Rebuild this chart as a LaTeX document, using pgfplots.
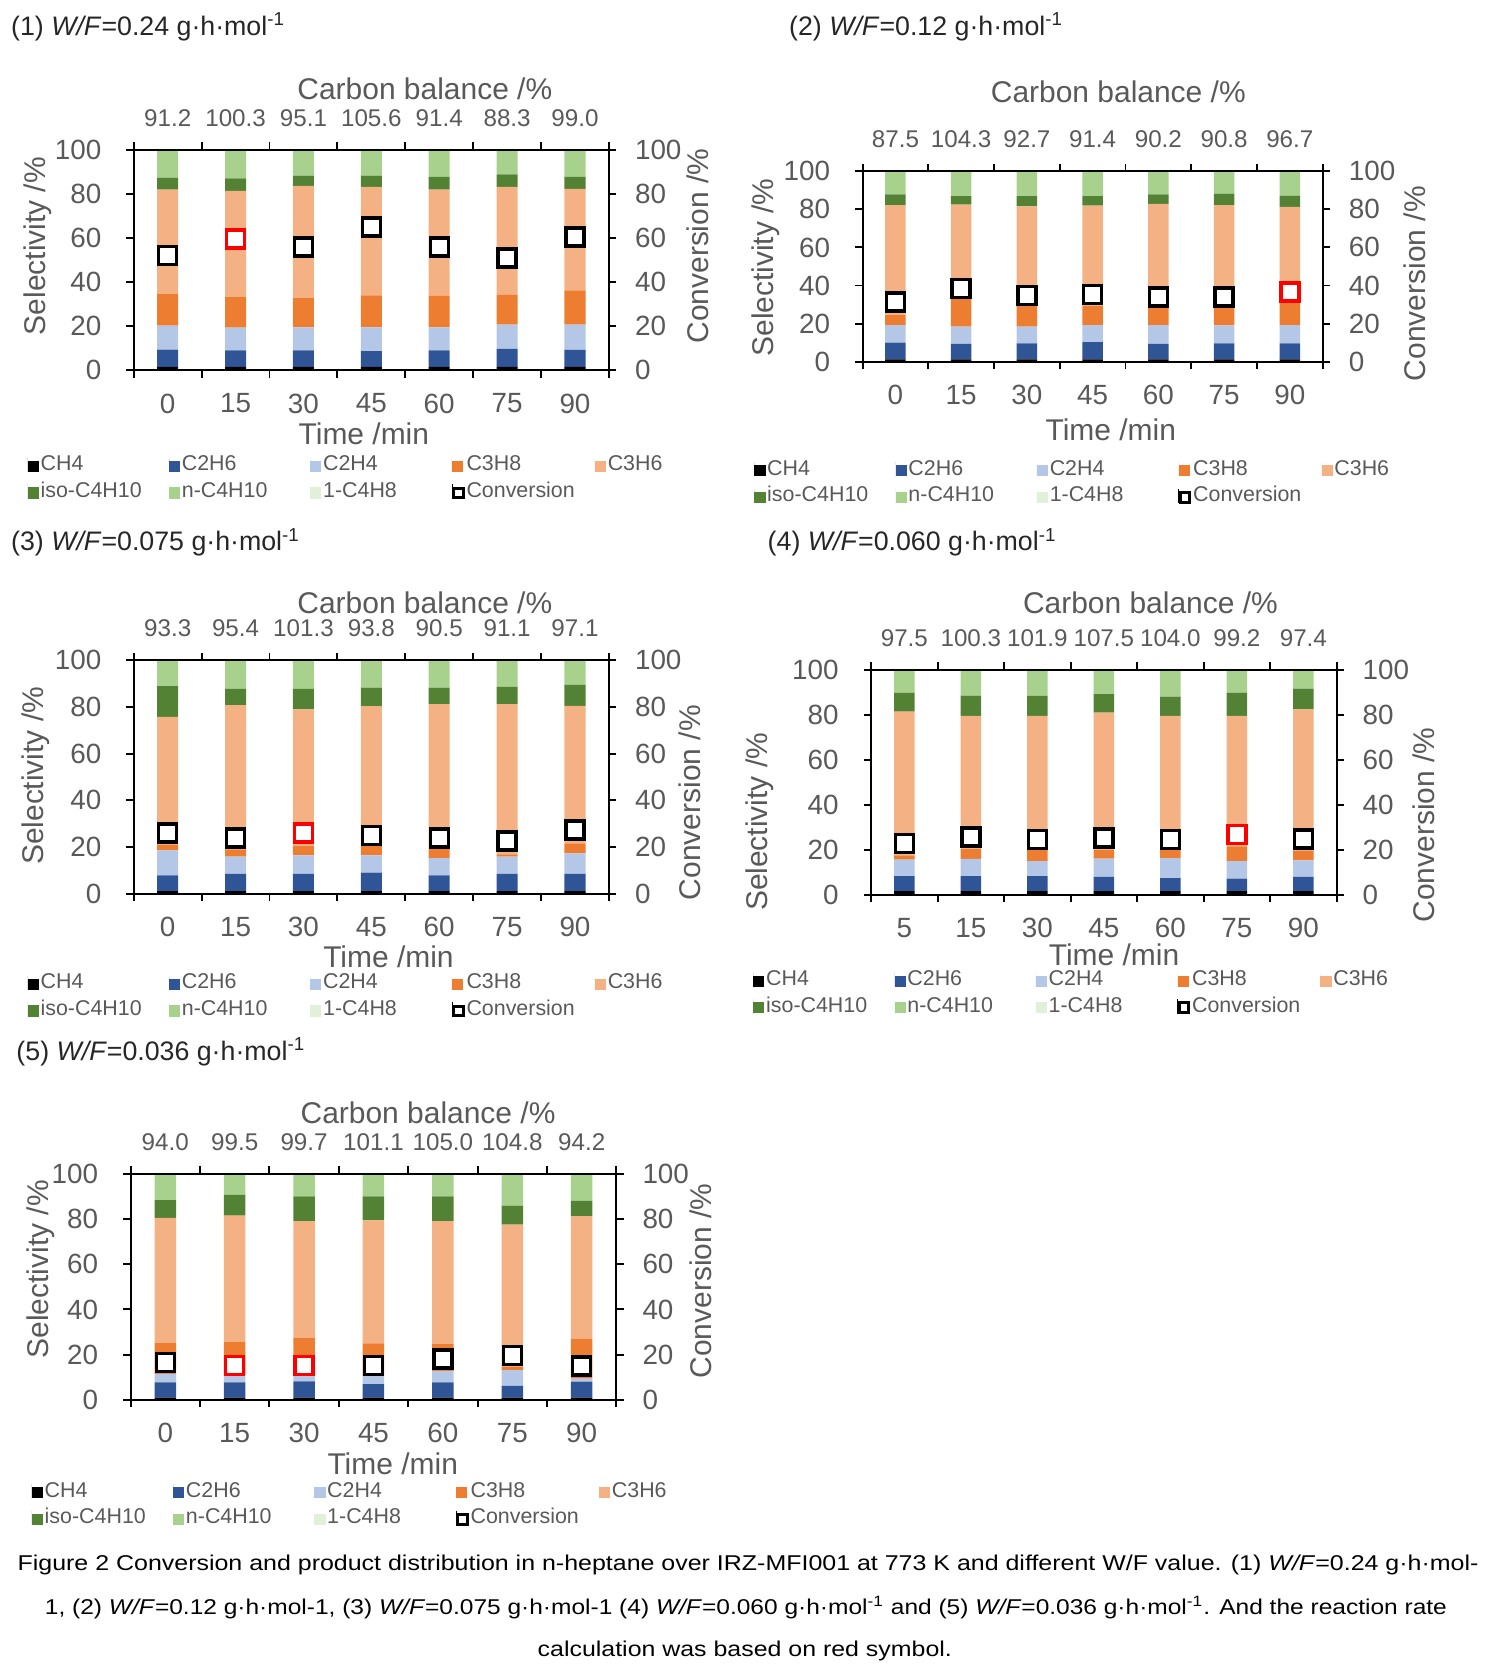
\documentclass[border=0pt]{standalone}
\usepackage{pgfplots}
\pgfplotsset{compat=1.18}
\usepackage{pgfplotstable}
\usepackage{graphicx}
\usepackage{fontspec}
\setmainfont{Liberation Sans}

\definecolor{cCH4}{HTML}{000000}
\definecolor{cC2H6}{HTML}{2F5597}
\definecolor{cC2H4}{HTML}{B4C7E7}
\definecolor{cC3H8}{HTML}{ED7D31}
\definecolor{cC3H6}{HTML}{F4B183}
\definecolor{ciso}{HTML}{548235}
\definecolor{cn}{HTML}{A9D18E}
\definecolor{cbut}{HTML}{E2F0D9}
\definecolor{txt}{HTML}{595959}
\definecolor{ttl}{HTML}{262626}

\pgfplotstableread{
x CH4 C2H6 C2H4 C3H8 C3H6 iso n but conv convr
0 1.5 7.9 10.8 14.6 47.2 5.4 12.6 0 52.0 nan
1 1.5 7.5 10.3 14.1 48.0 5.7 12.9 0 nan 59.5
2 1.5 7.5 10.5 13.5 50.7 4.6 11.7 0 56.0 nan
3 1.5 7.2 10.8 14.5 49.2 5.1 11.7 0 65.0 nan
4 1.5 7.5 10.5 14.2 48.3 5.7 12.3 0 56.0 nan
5 1.5 8.2 11.0 13.5 49.0 5.7 11.1 0 51.0 nan
6 1.5 7.8 11.4 15.6 46.0 5.4 12.3 0 60.5 nan
}\tA
\pgfplotstableread{
x CH4 C2H6 C2H4 C3H8 C3H6 iso n but conv convr
0 1.2 8.8 9.2 5.3 57.7 5.6 12.2 0 31.3 nan
1 1.2 8.2 9.0 14.6 49.5 4.4 13.1 0 38.3 nan
2 1.2 8.4 8.8 10.8 52.4 5.3 13.1 0 34.8 nan
3 1.2 9.1 8.9 10.3 52.5 4.9 13.1 0 35.3 nan
4 1.2 8.2 9.8 9.6 54.1 4.9 12.2 0 33.9 nan
5 1.2 8.4 9.5 9.7 53.4 6.1 11.7 0 33.9 nan
6 1.2 8.4 9.6 11.7 50.4 5.9 12.8 0 nan 36.7
}\tB
\pgfplotstableread{
x CH4 C2H6 C2H4 C3H8 C3H6 iso n but conv convr
0 1.1 6.7 10.7 2.4 54.9 13.1 11.1 0 26.0 nan
1 1.1 7.3 7.4 3.1 61.9 7.0 12.2 0 23.9 nan
2 1.1 7.3 8.0 4.2 58.4 8.8 12.2 0 nan 26.0
3 1.1 7.9 7.4 3.9 60.1 7.9 11.7 0 24.9 nan
4 1.1 6.7 7.4 4.0 62.0 7.1 11.7 0 23.9 nan
5 1.1 7.3 7.4 1.0 64.4 7.4 11.4 0 22.5 nan
6 1.1 7.3 8.8 4.3 59.0 9.1 10.4 0 27.2 nan
}\tC
\pgfplotstableread{
x CH4 C2H6 C2H4 C3H8 C3H6 iso n but conv convr
0 1.6 6.6 7.4 1.9 63.9 8.5 10.1 0 22.7 nan
1 1.6 6.6 7.7 4.6 59.1 9.0 11.4 0 25.7 nan
2 1.6 6.6 6.7 4.9 59.8 8.8 11.6 0 24.5 nan
3 1.6 6.3 8.1 3.8 61.2 8.2 10.8 0 25.3 nan
4 1.6 5.8 8.9 3.5 59.8 8.5 11.9 0 24.5 nan
5 1.6 5.5 7.8 6.6 58.1 10.3 10.1 0 nan 26.7
6 1.6 6.3 7.4 4.2 63.0 9.2 8.3 0 24.8 nan
}\tD
\pgfplotstableread{
x CH4 C2H6 C2H4 C3H8 C3H6 iso n but conv convr
0 1.0 6.7 3.8 13.8 55.3 7.8 11.6 0 16.5 nan
1 1.0 6.7 3.1 15.0 55.8 9.1 9.3 0 nan 15.3
2 1.0 7.1 2.9 16.5 51.6 11.0 9.9 0 nan 15.3
3 1.0 5.9 3.7 14.4 54.4 10.7 9.9 0 15.3 nan
4 1.0 6.7 5.1 11.8 54.5 11.0 9.9 0 18.0 nan
5 1.0 5.2 6.9 1.5 63.0 8.4 14.0 0 19.7 nan
6 1.0 7.0 1.4 17.7 54.2 6.8 11.9 0 15.0 nan
}\tE

\pgfplotsset{
 base/.style={scale only axis, xmin=-0.5, xmax=6.5, ymin=0, ymax=100,
   axis line style={line width=0.9pt, black},
   tick style={line width=0.9pt, black},
   tick align=outside, major tick length=3.5pt, minor tick length=3.5pt,
   ytick={0,20,40,60,80,100},
   /pgf/number format/assume math mode=true,
   tick label style={text=txt, inner sep=0pt},
   clip=false},
 selax/.style={base, ybar stacked, bar width=0.31,
   xtick={0,...,6}, minor xtick={-0.5,0.5,...,6.5},
   major x tick style={draw=none},
   ytick pos=left,
   x tick label style={font=\fontsize{13}{13}\selectfont, anchor=center, yshift=-12pt},
   y tick label style={font=\fontsize{13}{13}\selectfont, anchor=east, xshift=-11.5pt},
   legend columns=5,
   legend style={draw=none, fill=none, inner sep=0pt, anchor=north west,
      font=\fontsize{10}{10}\selectfont, text=txt,
      nodes={inner sep=0.8pt}, column sep=0pt, row sep=2.2pt,
      cells={anchor=west}}},
 convax/.style={base, axis y line*=right, axis x line*=top,
   xtick={0,...,6}, major x tick style={draw=none},
   x tick label style={font=\fontsize{11.3}{12}\selectfont, anchor=center, yshift=11.5pt},
   y tick label style={font=\fontsize{13}{13}\selectfont, anchor=west, xshift=8.5pt}},
 barplot/.style={fill=#1, draw=none, legend image code/.code={\path (0pt,-3.4pt) -- (0pt,3.4pt);\fill[#1] (0pt,-3.28pt) rectangle (5.2pt,1.92pt);}},
 convmark/.style={only marks, mark=square*, mark size=4.2pt, mark options={fill=white, draw=#1, line width=1.6pt, solid}},
 convmark/.default=black,
 convleg/.style={legend image code/.code={\path (0pt,-3.4pt) -- (0pt,3.4pt);\draw[black, fill=white, line width=1.4pt] (0.7pt,-2.98pt) rectangle (5.3pt,1.62pt);}},
}

\newcommand{\LE}[1]{\makebox[59.2pt][l]{#1}}
\newcommand{\bars}[1]{%
 \addplot[barplot=cCH4] table[x=x,y=CH4]{#1}; \addlegendentry{\LE{CH4}}
 \addplot[barplot=cC2H6] table[x=x,y=C2H6]{#1}; \addlegendentry{\LE{C2H6}}
 \addplot[barplot=cC2H4] table[x=x,y=C2H4]{#1}; \addlegendentry{\LE{C2H4}}
 \addplot[barplot=cC3H8] table[x=x,y=C3H8]{#1}; \addlegendentry{\LE{C3H8}}
 \addplot[barplot=cC3H6] table[x=x,y=C3H6]{#1}; \addlegendentry{\LE{C3H6}}
 \addplot[barplot=ciso] table[x=x,y=iso]{#1}; \addlegendentry{\LE{iso-C4H10}}
 \addplot[barplot=cn] table[x=x,y=n]{#1}; \addlegendentry{\LE{n-C4H10}}
 \addplot[barplot=cbut] table[x=x,y=but]{#1}; \addlegendentry{\LE{1-C4H8}}
 \addlegendimage{convleg}\addlegendentry{\LE{Conversion}}
}
\newcommand{\conv}[1]{%
 \addplot[convmark] table[x=x,y=conv]{#1};
 \addplot[convmark=red] table[x=x,y=convr]{#1};
}

\tikzset{lab/.style={text=txt, font=\fontsize{14}{14}\selectfont, inner sep=0pt},
 ttlst/.style={anchor=west, inner sep=0pt, text=ttl, font=\fontsize{12.5}{14}\selectfont}}

\begin{document}
\begin{tikzpicture}
\begin{scope}[x=0.5pt,y=-0.5pt]
\path[use as bounding box] (0,0) rectangle (1399,1568);
\coordinate (A1) at (125,346); \coordinate (A2) at (806,338); \coordinate (A3) at (125,835);
\coordinate (A4) at (814,836); \coordinate (A5) at (122,1308);
% titles
\node[ttlst] at (10,25) {(1) \textit{W/F}=0.24 g·h·mol\textsuperscript{-1}};
\node[ttlst] at (737,25) {(2) \textit{W/F}=0.12 g·h·mol\textsuperscript{-1}};
\node[ttlst] at (10,507) {(3) \textit{W/F}=0.075 g·h·mol\textsuperscript{-1}};
\node[ttlst] at (717,507) {(4) \textit{W/F}=0.060 g·h·mol\textsuperscript{-1}};
\node[ttlst] at (15,983) {(5) \textit{W/F}=0.036 g·h·mol\textsuperscript{-1}};
% axis labels
\node[lab, rotate=90] at (35,230) {Selectivity /\%};
\node[lab, rotate=90] at (652,230) {Conversion /\%};
\node[lab] at (340,405) {Time /min};
\node[lab] at (397,83) {Carbon balance /\%};
\node[lab, rotate=90] at (716,250) {Selectivity /\%};
\node[lab, rotate=90] at (1322,265) {Conversion /\%};
\node[lab] at (1038,402) {Time /min};
\node[lab] at (1045,86) {Carbon balance /\%};
\node[lab, rotate=90] at (33,725) {Selectivity /\%};
\node[lab, rotate=90] at (645,750) {Conversion /\%};
\node[lab] at (363,894) {Time /min};
\node[lab] at (397,563) {Carbon balance /\%};
\node[lab, rotate=90] at (710,768) {Selectivity /\%};
\node[lab, rotate=90] at (1330,771) {Conversion /\%};
\node[lab] at (1041,892) {Time /min};
\node[lab] at (1075,563) {Carbon balance /\%};
\node[lab, rotate=90] at (38,1186) {Selectivity /\%};
\node[lab, rotate=90] at (655,1197) {Conversion /\%};
\node[lab] at (367,1368) {Time /min};
\node[lab] at (400,1040) {Carbon balance /\%};
% caption
\node[inner sep=0pt, font=\fontsize{10}{12}\selectfont] at (699,1462) {\resizebox{682.5pt}{\height}{Figure 2 Conversion and product distribution in n-heptane over IRZ-MFI001 at 773 K and different W/F value. (1) \textit{W/F}=0.24 g·h·mol-}};
\node[inner sep=0pt, font=\fontsize{10}{12}\selectfont] at (697,1502) {\resizebox{655pt}{\height}{1, (2) \textit{W/F}=0.12 g·h·mol-1, (3) \textit{W/F}=0.075 g·h·mol-1 (4) \textit{W/F}=0.060 g·h·mol\textsuperscript{-1} and (5) \textit{W/F}=0.036 g·h·mol\textsuperscript{-1}. And the reaction rate}};
\node[inner sep=0pt, font=\fontsize{10}{12}\selectfont] at (696,1543) {\resizebox{193.5pt}{\height}{calculation was based on red symbol.}};
\end{scope}

% Panel 1
\begin{axis}[selax, at={(A1)}, anchor=south west, width=222pt, height=103pt,
  xticklabels={0,15,30,45,60,75,90}, legend style={at={(-0.224,-0.3786)}}]
\bars{\tA}
\end{axis}
\begin{axis}[convax, at={(A1)}, anchor=south west, width=222pt, height=103pt,
  xticklabels={91.2,100.3,95.1,105.6,91.4,88.3,99.0}]
\conv{\tA}
\end{axis}
% Panel 2
\begin{axis}[selax, at={(A2)}, anchor=south west, width=215pt, height=89pt,
  xticklabels={0,15,30,45,60,75,90}, legend style={at={(-0.236,-0.5056)}}]
\bars{\tB}
\end{axis}
\begin{axis}[convax, at={(A2)}, anchor=south west, width=215pt, height=89pt,
  xticklabels={87.5,104.3,92.7,91.4,90.2,90.8,96.7}]
\conv{\tB}
\end{axis}
% Panel 3
\begin{axis}[selax, at={(A3)}, anchor=south west, width=222pt, height=109pt,
  xticklabels={0,15,30,45,60,75,90}, legend style={at={(-0.224,-0.3349)}}]
\bars{\tC}
\end{axis}
\begin{axis}[convax, at={(A3)}, anchor=south west, width=222pt, height=109pt,
  xticklabels={93.3,95.4,101.3,93.8,90.5,91.1,97.1}]
\conv{\tC}
\end{axis}
% Panel 4
\begin{axis}[selax, at={(A4)}, anchor=south west, width=217.5pt, height=105pt,
  xticklabels={5,15,30,45,60,75,90}, legend style={at={(-0.254,-0.3286)}}]
\bars{\tD}
\end{axis}
\begin{axis}[convax, at={(A4)}, anchor=south west, width=217.5pt, height=105pt,
  xticklabels={97.5,100.3,101.9,107.5,104.0,99.2,97.4}]
\conv{\tD}
\end{axis}
% Panel 5
\begin{axis}[selax, at={(A5)}, anchor=south west, width=227pt, height=105.5pt,
  xticklabels={0,15,30,45,60,75,90}, legend style={at={(-0.204,-0.3555)}}]
\bars{\tE}
\end{axis}
\begin{axis}[convax, at={(A5)}, anchor=south west, width=227pt, height=105.5pt,
  xticklabels={94.0,99.5,99.7,101.1,105.0,104.8,94.2}]
\conv{\tE}
\end{axis}
\end{tikzpicture}
\end{document}
